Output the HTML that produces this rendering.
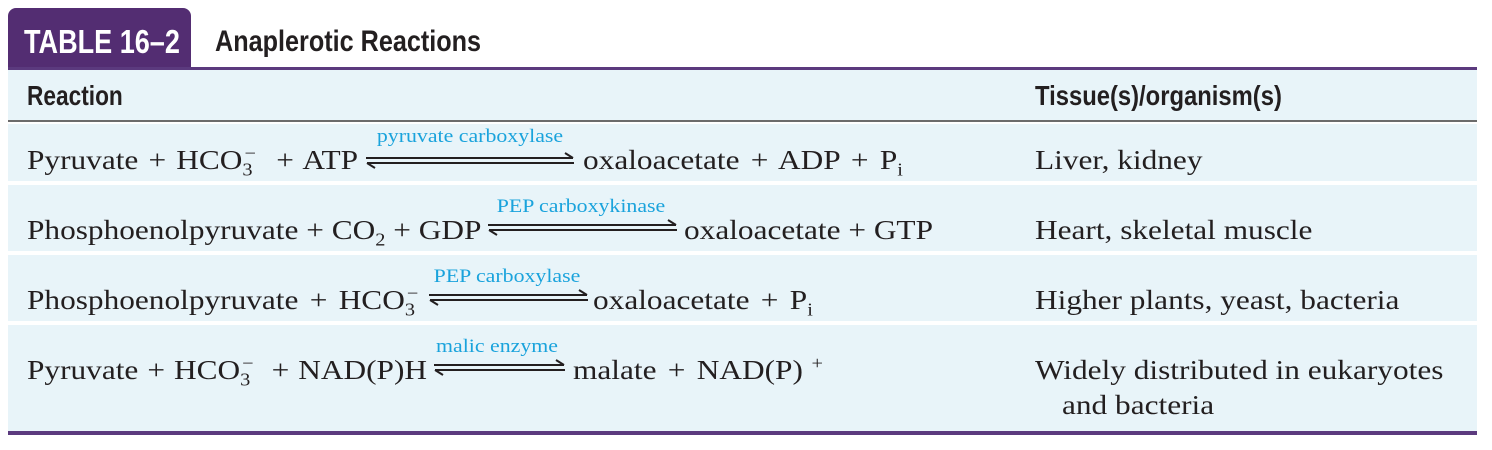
<!DOCTYPE html>
<html><head><meta charset="utf-8">
<style>
body{margin:0;width:1492px;height:450px;background:#fff;position:relative;overflow:hidden;font-family:"Liberation Serif",serif;color:#231f20}
.abs{position:absolute}
.row{position:absolute;left:8px;width:1469px;background:#e8f4f9}
.t{position:absolute;font-size:27px;white-space:nowrap;line-height:1;transform:scaleX(1.16);transform-origin:0 0}
.lab{position:absolute;font-family:"Liberation Serif",serif;font-size:19px;color:#1aa3dc;white-space:nowrap;line-height:1;transform:translateX(-50%) scaleX(1.15)}
.hd{position:absolute;font-family:"Liberation Sans Narrow","Liberation Sans",sans-serif;font-weight:bold;font-size:28px;line-height:1;white-space:nowrap;transform-origin:0 0}
sub,sup{font-size:65%;line-height:0}
</style></head><body>
<div class="abs" style="left:8px;top:8px;width:183px;height:62px;background:#532d72;border-radius:8px 8px 0 0"></div>
<div class="hd" style="left:24px;top:25px;color:#fff;font-size:33px;transform:scaleX(0.82)">TABLE 16–2</div>
<div class="hd" style="left:215px;top:27px;font-size:30px;transform:scaleX(0.84)">Anaplerotic Reactions</div>
<div class="abs" style="left:8px;top:67px;width:1469px;height:3px;background:#5b3a7e"></div>
<div class="row" style="top:70px;height:50px"></div>
<div class="abs" style="left:8px;top:120px;width:1469px;height:2px;background:#6b6b6b"></div>
<div class="hd" style="left:27px;top:82px;transform:scaleX(0.81)">Reaction</div>
<div class="hd" style="left:1035px;top:82px;transform:scaleX(0.85)">Tissue(s)/organism(s)</div>

<div class="row" style="top:124px;height:57px"></div>
<div class="row" style="top:185px;height:66px"></div>
<div class="row" style="top:255px;height:66px"></div>
<div class="row" style="top:325px;height:106px"></div>
<div class="abs" style="left:8px;top:431px;width:1469px;height:4px;background:#5b3a7e"></div>

<!-- row 1 -->
<div class="t" style="left:27px;top:147px;word-spacing:2px">Pyruvate + HCO<sub>3</sub><sup style="margin-left:-7px">−</sup> &nbsp;+ ATP</div>
<div class="lab" style="left:470px;top:127px">pyruvate carboxylase</div>
<svg class="abs" style="left:364px;top:150px" width="212" height="20"><g stroke="#231f20" stroke-width="2" fill="none"><path d="M2 8 H209 M201 3 L209 8"/><path d="M3 13 H210 M3 13 L11 18"/></g></svg>
<div class="t" style="left:583px;top:147px;word-spacing:3px">oxaloacetate + ADP + P<sub>i</sub></div>
<div class="t" style="left:1035px;top:147px">Liver, kidney</div>

<!-- row 2 -->
<div class="t" style="left:27px;top:217px">Phosphoenolpyruvate + CO<sub>2</sub> + GDP</div>
<div class="lab" style="left:581px;top:197px">PEP carboxykinase</div>
<svg class="abs" style="left:486px;top:217px" width="194" height="20"><g stroke="#231f20" stroke-width="2" fill="none"><path d="M2 8 H190 M182 3 L190 8"/><path d="M3 13 H191 M3 13 L11 18"/></g></svg>
<div class="t" style="left:684px;top:217px">oxaloacetate + GTP</div>
<div class="t" style="left:1035px;top:217px">Heart, skeletal muscle</div>

<!-- row 3 -->
<div class="t" style="left:27px;top:287px;word-spacing:3px">Phosphoenolpyruvate + HCO<sub>3</sub><sup style="margin-left:-7px">−</sup></div>
<div class="lab" style="left:507px;top:267px">PEP carboxylase</div>
<svg class="abs" style="left:427px;top:287px" width="164" height="20"><g stroke="#231f20" stroke-width="2" fill="none"><path d="M2 8 H160 M152 3 L160 8"/><path d="M3 13 H161 M3 13 L11 18"/></g></svg>
<div class="t" style="left:593px;top:287px;word-spacing:3px">oxaloacetate + P<sub>i</sub></div>
<div class="t" style="left:1035px;top:287px">Higher plants, yeast, bacteria</div>

<!-- row 4 -->
<div class="t" style="left:27px;top:357px;word-spacing:1px">Pyruvate + HCO<sub>3</sub><sup style="margin-left:-7px">−</sup> &nbsp;+ NAD(P)H</div>
<div class="lab" style="left:497px;top:337px">malic enzyme</div>
<svg class="abs" style="left:432px;top:357px" width="136" height="20"><g stroke="#231f20" stroke-width="2" fill="none"><path d="M2 8 H132 M124 3 L132 8"/><path d="M3 13 H133 M3 13 L11 18"/></g></svg>
<div class="t" style="left:573px;top:357px;word-spacing:3px">malate + NAD(P)<sup>&nbsp;+</sup></div>
<div class="t" style="left:1035px;top:357px">Widely distributed in eukaryotes</div>
<div class="t" style="left:1062px;top:392px">and bacteria</div>
</body></html>
